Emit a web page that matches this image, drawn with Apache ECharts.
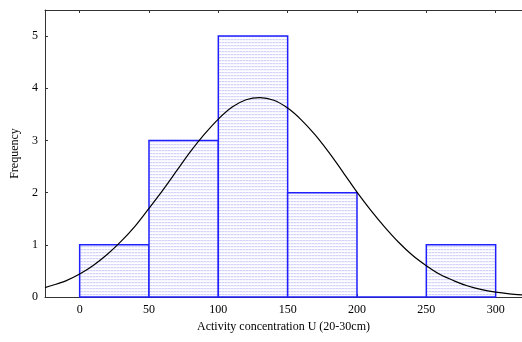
<!DOCTYPE html>
<html>
<head>
<meta charset="utf-8">
<script src="https://cdn.jsdelivr.net/npm/echarts@6/dist/echarts.min.js"></script>
<style>
  html, body { margin: 0; padding: 0; background: #fff; }
  #chart { width: 522px; height: 342px; }
</style>
</head>
<body>
<div id="chart"></div>
<script>
// Histogram bins (lower edges) and their counts
var binStarts = [0, 50, 100, 150, 200, 250];
var binWidth = 50;
var counts = [1, 3, 5, 2, 0, 1];

// Fitted normal curve, sampled points (x, expected frequency)
var curveX = [-25, -20, -10, 0, 10, 20, 30, 40, 50, 60, 70, 80, 90, 100, 110, 120, 130,
              140, 150, 160, 170, 180, 190, 200, 210, 220, 230, 240, 250, 260, 270, 280,
              290, 300, 310, 319];
var curveY = [0.18, 0.22, 0.31, 0.44, 0.61, 0.82, 1.07, 1.36, 1.70, 2.05, 2.42, 2.79, 3.12, 3.41, 3.64, 3.78, 3.82,
              3.77, 3.62, 3.39, 3.10, 2.76, 2.39, 2.01, 1.66, 1.34, 1.05, 0.80, 0.60, 0.43, 0.31, 0.21,
              0.14, 0.093, 0.06, 0.04];

// Axis ticks
var xTicks = [0, 50, 100, 150, 200, 250, 300];
var yTicks = [0, 1, 2, 3, 4, 5];

var histData = binStarts.map(function (s, i) { return [s, s + binWidth, counts[i]]; });
var curveData = curveX.map(function (x, i) { return [x, curveY[i]]; });

// Dotted fill used inside the bars
var pat = document.createElement('canvas');
pat.width = 3; pat.height = 3;
var pc = pat.getContext('2d');
pc.fillStyle = '#ffffff'; pc.fillRect(0, 0, 3, 3);
pc.fillStyle = '#d2d2fa'; pc.fillRect(0, 0, 2, 1);
pc.fillStyle = '#e8e8fc'; pc.fillRect(2, 0, 1, 1);
pc.fillStyle = '#f6f6fe'; pc.fillRect(0, 1, 3, 1);

var font = '"Liberation Serif", "Times New Roman", serif';
var axisColor = '#333';

var chart = echarts.init(document.getElementById('chart'), null, { renderer: 'canvas' });
chart.setOption({
  animation: false,
  backgroundColor: '#fff',
  grid: { left: 45, right: 0, top: 10, bottom: 45 },
  xAxis: [{
    type: 'value', min: -25, max: 319, position: 'bottom',
    name: 'Activity concentration U (20-30cm)',
    nameLocation: 'middle', nameGap: 24,
    nameTextStyle: { fontFamily: font, fontSize: 12, color: '#000' },
    axisLine: { show: true, onZero: false, lineStyle: { color: axisColor, width: 1 } },
    axisTick: { show: true, inside: true, length: 3, customValues: xTicks, lineStyle: { color: axisColor } },
    axisLabel: { customValues: xTicks, fontFamily: font, fontSize: 12, color: '#000', margin: 7 },
    splitLine: { show: false }
  }, {
    type: 'value', min: -25, max: 319, position: 'top',
    axisLine: { show: true, onZero: false, lineStyle: { color: axisColor, width: 1 } },
    axisTick: { show: true, inside: true, length: 3, customValues: xTicks, lineStyle: { color: axisColor } },
    axisLabel: { show: false },
    splitLine: { show: false }
  }],
  yAxis: {
    type: 'value', min: 0, max: 5.5,
    name: 'Frequency', nameLocation: 'middle', nameGap: 22, nameRotate: 90,
    nameTextStyle: { fontFamily: font, fontSize: 12, color: '#000' },
    axisLine: { show: true, onZero: false, lineStyle: { color: axisColor, width: 1 } },
    axisTick: { show: true, inside: true, length: 3, customValues: yTicks, lineStyle: { color: axisColor } },
    axisLabel: { customValues: yTicks, fontFamily: font, fontSize: 12, color: '#000', margin: 7 },
    splitLine: { show: false }
  },
  series: [{
    type: 'custom',
    xAxisIndex: 0,
    data: histData,
    encode: { x: [0, 1], y: 2 },
    z: 2,
    renderItem: function (params, api) {
      var p0 = api.coord([api.value(0), api.value(2)]);
      var p1 = api.coord([api.value(1), 0]);
      return {
        type: 'rect',
        shape: { x: p0[0], y: p0[1], width: p1[0] - p0[0], height: p1[1] - p0[1] },
        style: { fill: { image: pat, repeat: 'repeat' }, stroke: '#1f1fff', lineWidth: 1.5 }
      };
    }
  }, {
    type: 'line',
    xAxisIndex: 0,
    data: curveData,
    smooth: 0.3,
    showSymbol: false,
    clip: true,
    z: 3,
    lineStyle: { color: '#000', width: 1.2 }
  }]
});
</script>
</body>
</html>
